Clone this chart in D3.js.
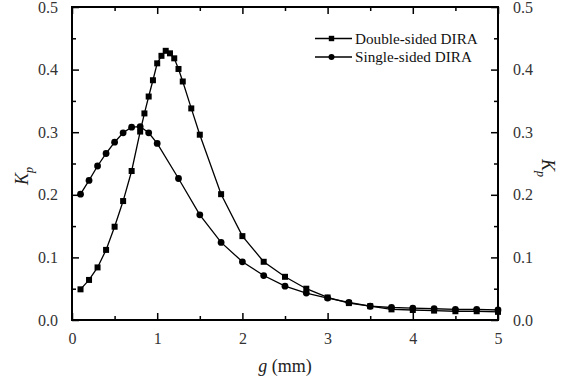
<!DOCTYPE html>
<html><head><meta charset="utf-8">
<script src="https://cdn.jsdelivr.net/npm/d3@7"></script>
<style>
body{margin:0;background:#fff;}
svg{display:block;}
svg text{font-family:"Liberation Serif","Times New Roman",Times,serif !important;}
</style></head>
<body><svg id="c" width="579" height="383" font-family="Liberation Serif"></svg>
<script>
// ---- data ----
const gDouble = [0.1,0.2,0.3,0.4,0.5,0.6,0.7,0.8,0.85,0.9,0.95,1.0,1.05,1.1,1.15,1.2,1.25,1.3,1.4,1.5,1.75,2.0,2.25,2.5,2.75,3.0,3.25,3.5,3.75,4.0,4.25,4.5,4.75,5.0];
const kDouble = [0.049,0.064,0.084,0.112,0.149,0.190,0.238,0.301,0.330,0.357,0.383,0.410,0.422,0.430,0.426,0.418,0.401,0.381,0.338,0.296,0.201,0.134,0.093,0.069,0.050,0.036,0.027,0.022,0.017,0.016,0.015,0.014,0.014,0.013];
const gSingle = [0.1,0.2,0.3,0.4,0.5,0.6,0.7,0.8,0.9,1.0,1.25,1.5,1.75,2.0,2.25,2.5,2.75,3.0,3.25,3.5,3.75,4.0,4.25,4.5,4.75,5.0];
const kSingle = [0.201,0.223,0.246,0.266,0.284,0.299,0.308,0.309,0.299,0.282,0.226,0.168,0.124,0.093,0.071,0.054,0.043,0.035,0.028,0.022,0.020,0.019,0.018,0.017,0.017,0.016];
const xTicks = [0,1,2,3,4,5];
const yTicks = [0.0,0.1,0.2,0.3,0.4,0.5];
const seriesNames = ["Double-sided DIRA","Single-sided DIRA"];

const FONT = "'Liberation Serif','Times New Roman',serif";
const L=72, T=7, R=498, B=320;
const svg = d3.select("#c");
const x = d3.scaleLinear().domain([0,5]).range([L,R]);
const y = d3.scaleLinear().domain([0,0.5]).range([B,T]);

const xMinor = d3.range(0,5.01,0.5).filter(v=>Math.abs(v-Math.round(v))>1e-6);
const yMinor = d3.range(0.05,0.5,0.1);

function styleAxis(g){
  g.attr("font-family",FONT).attr("font-size",16);
  g.select(".domain").remove();
  g.selectAll("line").attr("stroke","#000").attr("stroke-width",1.5);
  g.selectAll("text").attr("fill","#333").attr("font-family",FONT).attr("font-size",16);
}
// bottom
svg.append("g").attr("transform",`translate(0,${B})`)
  .call(d3.axisBottom(x).tickValues(xTicks).tickSizeInner(-7).tickSizeOuter(0).tickPadding(13).tickFormat(d3.format("d")))
  .call(styleAxis);
svg.append("g").attr("transform",`translate(0,${B})`)
  .call(d3.axisBottom(x).tickValues(xMinor).tickSize(-4).tickFormat(""))
  .call(styleAxis);
// top
svg.append("g").attr("transform",`translate(0,${T})`)
  .call(d3.axisTop(x).tickValues(xTicks).tickSize(-7).tickFormat(""))
  .call(styleAxis);
svg.append("g").attr("transform",`translate(0,${T})`)
  .call(d3.axisTop(x).tickValues(xMinor).tickSize(-4).tickFormat(""))
  .call(styleAxis);
// left
svg.append("g").attr("transform",`translate(${L},0)`)
  .call(d3.axisLeft(y).tickValues(yTicks).tickSizeInner(-7).tickSizeOuter(0).tickPadding(14).tickFormat(d3.format(".1f")))
  .call(styleAxis);
svg.append("g").attr("transform",`translate(${L},0)`)
  .call(d3.axisLeft(y).tickValues(yMinor).tickSize(-4).tickFormat(""))
  .call(styleAxis);
// right
svg.append("g").attr("transform",`translate(${R},0)`)
  .call(d3.axisRight(y).tickValues(yTicks).tickSizeInner(-7).tickSizeOuter(0).tickPadding(15).tickFormat(d3.format(".1f")))
  .call(styleAxis);
svg.append("g").attr("transform",`translate(${R},0)`)
  .call(d3.axisRight(y).tickValues(yMinor).tickSize(-4).tickFormat(""))
  .call(styleAxis);

// frame
svg.append("rect").attr("x",L).attr("y",T).attr("width",R-L).attr("height",B-T)
  .attr("fill","none").attr("stroke","#000").attr("stroke-width",2);

// series
const line = d3.line().x(d=>x(d[0])).y(d=>y(d[1]));
const dD = gDouble.map((g,i)=>[g,kDouble[i]]);
const dS = gSingle.map((g,i)=>[g,kSingle[i]]);
svg.append("path").datum(dD).attr("d",line).attr("fill","none").attr("stroke","#000").attr("stroke-width",1.3);
svg.append("path").datum(dS).attr("d",line).attr("fill","none").attr("stroke","#000").attr("stroke-width",1.3);
const s=6;
svg.append("g").selectAll("rect").data(dD).join("rect")
  .attr("x",d=>x(d[0])-s/2).attr("y",d=>y(d[1])-s/2).attr("width",s).attr("height",s).attr("fill","#000");
svg.append("g").selectAll("circle").data(dS).join("circle")
  .attr("cx",d=>x(d[0])).attr("cy",d=>y(d[1])).attr("r",3.4).attr("fill","#000");

// legend
const lg = svg.append("g").attr("font-family",FONT);
seriesNames.forEach((name,i)=>{
  const yy = 38.5 + i*18.5;
  lg.append("line").attr("x1",315).attr("x2",352).attr("y1",yy).attr("y2",yy).attr("stroke","#000").attr("stroke-width",1.5);
  if(i===0) lg.append("rect").attr("x",331.5-2.7).attr("y",yy-2.7).attr("width",5.4).attr("height",5.4).attr("fill","#000");
  else lg.append("circle").attr("cx",331.5).attr("cy",yy).attr("r",3).attr("fill","#000");
  lg.append("text").attr("x",355).attr("y",yy+5).attr("font-family",FONT).attr("font-size",15.2).attr("fill","#111").text(name);
});

// axis titles
const xt = svg.append("text").attr("x",285).attr("y",372).attr("text-anchor","middle").attr("font-family",FONT).attr("font-size",18).attr("fill","#222");
xt.append("tspan").attr("font-style","italic").text("g");
xt.append("tspan").text(" (mm)");

const ylt = svg.append("text").attr("transform","translate(28,176) rotate(-90)").attr("text-anchor","middle").attr("font-family",FONT).attr("font-size",18).attr("fill","#222");
ylt.append("tspan").attr("font-style","italic").text("K");
ylt.append("tspan").attr("font-style","italic").attr("font-size",12).attr("dy",5).text("p");

const yrt = svg.append("text").attr("transform","translate(542,168) rotate(90)").attr("text-anchor","middle").attr("font-family",FONT).attr("font-size",18).attr("fill","#222");
yrt.append("tspan").attr("font-style","italic").text("K");
yrt.append("tspan").attr("font-style","italic").attr("font-size",12).attr("dy",5).text("p");
</script></body></html>
